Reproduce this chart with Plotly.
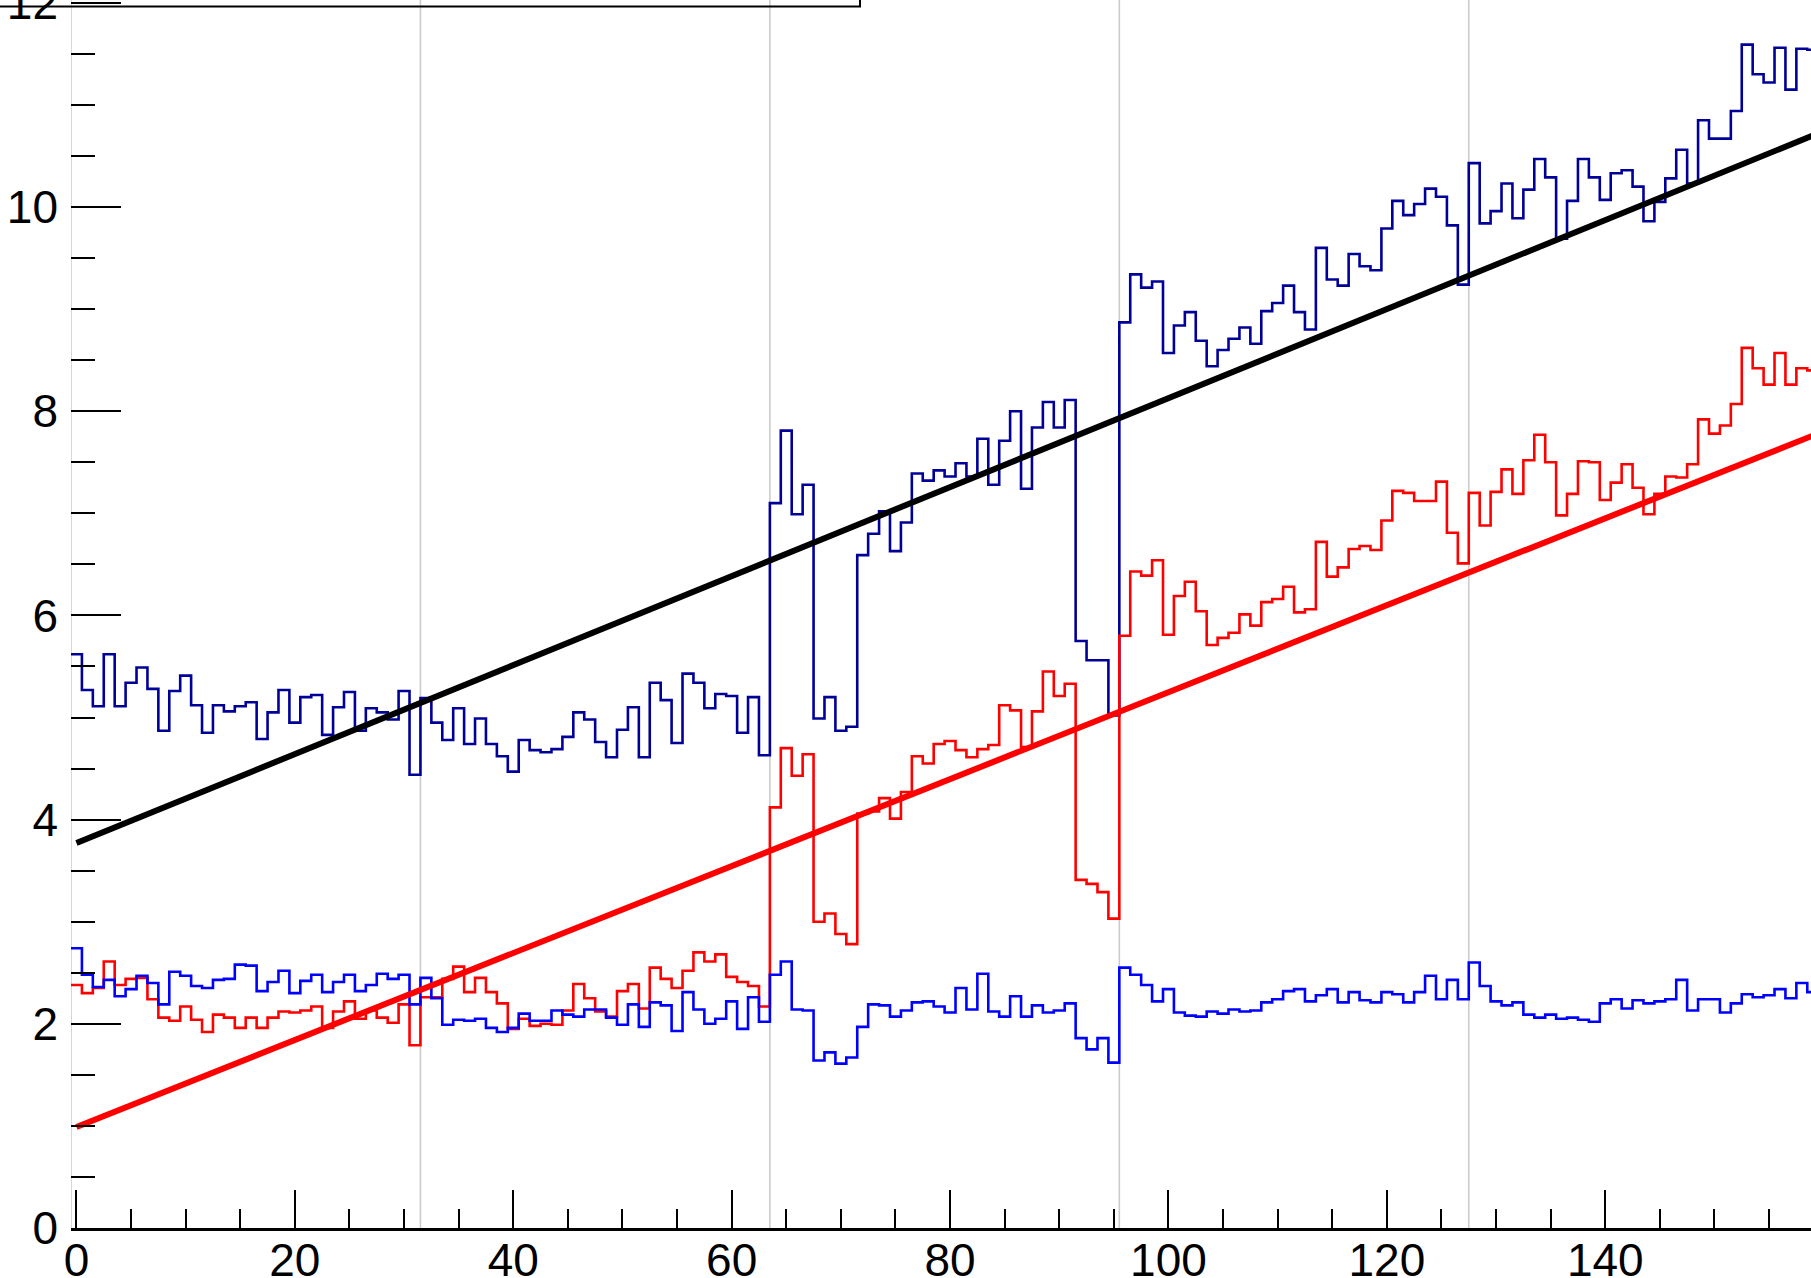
import numpy as np
import plotly.graph_objects as go

# ---------------- data ----------------
bins = list(range(160))  # bin centres 0..159 (bin width 1)

navy_vals = [
    5.62, 5.27, 5.11, 5.62, 5.11, 5.34, 5.49, 5.28, 4.87, 5.26, 5.41, 5.12, 4.85, 5.12, 5.06, 5.11,
    5.15, 4.79, 5.05, 5.27, 4.95, 5.20, 5.22, 4.83, 5.10, 5.25, 4.87, 5.09, 5.05, 4.98, 5.26, 4.44,
    5.19, 4.95, 4.78, 5.09, 4.74, 4.99, 4.74, 4.62, 4.47, 4.78, 4.68, 4.66, 4.69, 4.81, 5.05, 4.98,
    4.76, 4.61, 4.88, 5.10, 4.61, 5.34, 5.17, 4.75, 5.43, 5.34, 5.09, 5.23, 5.21, 4.85, 5.20, 4.63,
    7.10, 7.81, 6.99, 7.28, 4.99, 5.20, 4.87, 4.91, 6.59, 6.80, 7.02, 6.63, 6.91, 7.39, 7.32, 7.42,
    7.36, 7.49, 7.36, 7.73, 7.28, 7.71, 8.00, 7.24, 7.84, 8.09, 7.84, 8.11, 5.75, 5.56, 5.56, 5.02,
    8.87, 9.34, 9.21, 9.27, 8.57, 8.84, 8.97, 8.69, 8.44, 8.60, 8.71, 8.82, 8.66, 8.98, 9.06, 9.23,
    8.97, 8.80, 9.60, 9.29, 9.23, 9.54, 9.42, 9.38, 9.79, 10.06, 9.92, 10.03, 10.18, 10.10, 9.82, 9.24,
    10.43, 9.84, 9.96, 10.23, 9.89, 10.17, 10.47, 10.29, 9.69, 10.06, 10.47, 10.29, 10.07, 10.33, 10.36, 10.20,
    9.86, 10.05, 10.28, 10.56, 10.23, 10.85, 10.67, 10.67, 10.94, 11.59, 11.30, 11.22, 11.56, 11.15, 11.55, 11.54,
]

red_vals = [
    2.38, 2.30, 2.35, 2.61, 2.38, 2.44, 2.45, 2.24, 2.06, 2.03, 2.17, 2.04, 1.92, 2.09, 2.06, 1.96,
    2.06, 1.96, 2.06, 2.12, 2.11, 2.13, 2.17, 1.96, 2.12, 2.22, 2.05, 2.13, 2.06, 2.01, 2.19, 1.79,
    2.26, 2.26, 2.44, 2.56, 2.31, 2.45, 2.31, 2.20, 1.95, 2.05, 1.98, 2.00, 1.99, 2.13, 2.39, 2.25,
    2.12, 2.07, 2.32, 2.39, 2.15, 2.55, 2.44, 2.35, 2.52, 2.70, 2.61, 2.68, 2.46, 2.41, 2.37, 2.17,
    4.12, 4.70, 4.43, 4.64, 3.00, 3.08, 2.88, 2.78, 4.06, 4.08, 4.21, 4.01, 4.27, 4.62, 4.55, 4.74,
    4.77, 4.68, 4.61, 4.69, 4.73, 5.12, 5.07, 4.71, 5.06, 5.45, 5.21, 5.33, 3.41, 3.37, 3.29, 3.03,
    5.80, 6.43, 6.39, 6.54, 5.81, 6.19, 6.33, 6.04, 5.71, 5.78, 5.83, 6.01, 5.90, 6.13, 6.16, 6.28,
    6.03, 6.06, 6.72, 6.38, 6.47, 6.65, 6.68, 6.64, 6.93, 7.22, 7.20, 7.12, 7.12, 7.31, 6.81, 6.51,
    7.20, 6.88, 7.21, 7.43, 7.19, 7.52, 7.77, 7.50, 6.98, 7.19, 7.51, 7.50, 7.13, 7.30, 7.48, 7.25,
    6.99, 7.19, 7.36, 7.35, 7.48, 7.92, 7.78, 7.86, 8.07, 8.62, 8.42, 8.26, 8.57, 8.26, 8.42, 8.40,
]

blue_vals = [
    2.74, 2.48, 2.36, 2.43, 2.27, 2.34, 2.47, 2.40, 2.19, 2.51, 2.47, 2.37, 2.35, 2.43, 2.44, 2.58,
    2.57, 2.32, 2.41, 2.52, 2.30, 2.42, 2.48, 2.31, 2.41, 2.48, 2.32, 2.38, 2.49, 2.44, 2.48, 2.19,
    2.45, 2.25, 1.99, 2.04, 2.03, 2.05, 1.96, 1.92, 1.96, 2.10, 2.03, 2.03, 2.13, 2.09, 2.07, 2.14,
    2.14, 2.06, 1.99, 2.19, 1.97, 2.21, 2.18, 1.93, 2.31, 2.14, 2.00, 2.05, 2.22, 1.95, 2.26, 2.02,
    2.48, 2.61, 2.14, 2.13, 1.64, 1.72, 1.61, 1.67, 1.97, 2.19, 2.18, 2.07, 2.13, 2.21, 2.22, 2.17,
    2.11, 2.35, 2.14, 2.49, 2.12, 2.07, 2.27, 2.07, 2.18, 2.11, 2.13, 2.20, 1.86, 1.75, 1.86, 1.62,
    2.55, 2.48, 2.38, 2.22, 2.34, 2.11, 2.08, 2.07, 2.12, 2.10, 2.14, 2.12, 2.13, 2.21, 2.24, 2.32,
    2.34, 2.22, 2.28, 2.34, 2.21, 2.31, 2.23, 2.21, 2.31, 2.29, 2.21, 2.31, 2.47, 2.24, 2.43, 2.24,
    2.60, 2.37, 2.22, 2.18, 2.21, 2.09, 2.06, 2.09, 2.05, 2.06, 2.04, 2.02, 2.20, 2.24, 2.15, 2.23,
    2.20, 2.22, 2.24, 2.43, 2.13, 2.24, 2.24, 2.11, 2.20, 2.29, 2.26, 2.28, 2.34, 2.25, 2.40, 2.31,
]

# straight-line fits (end points)
fit_x = [0.0, 159.0]
black_fit_y = [3.77, 10.70]
red_fit_y = [0.99, 7.76]

# vertical separators (every 32 bins)
separators = [-0.5, 31.5, 63.5, 95.5, 127.5]

x_ticks = [0, 20, 40, 60, 80, 100, 120, 140]
y_ticks = [0, 2, 4, 6, 8, 10, 12]

# ---------------- figure ----------------
W, H = 1811, 1278
ML, MR, MT, MB = 71, 0, 0, 50
PX_PER_X = 10.92
PX_PER_Y = 102.1
x_lo = -0.5
x_hi = x_lo + (W - ML - MR) / PX_PER_X
y_hi = (H - MT - MB) / PX_PER_Y


def step_xy(vals):
    xs = [b - 0.5 for b in bins] + [bins[-1] + 0.5]
    ys = list(vals) + [vals[-1]]
    return xs, ys


fig = go.Figure()

for vals, col in [(navy_vals, "#000099"), (red_vals, "#ff0000"), (blue_vals, "#0000ff")]:
    xs, ys = step_xy(vals)
    fig.add_trace(go.Scatter(x=xs, y=ys, mode="lines", line=dict(color=col, width=2.6, shape="hv"),
                             hoverinfo="skip", showlegend=False))

fig.add_trace(go.Scatter(x=fit_x, y=black_fit_y, mode="lines", line=dict(color="black", width=6),
                         showlegend=False, hoverinfo="skip"))
fig.add_trace(go.Scatter(x=fit_x, y=red_fit_y, mode="lines", line=dict(color="#ff0000", width=6),
                         showlegend=False, hoverinfo="skip"))

shapes = []
for s in separators:
    shapes.append(dict(type="line", xref="x", yref="paper", x0=s, x1=s, y0=0, y1=1,
                       line=dict(color="#cccccc", width=1.6), layer="below"))

# legend box (mostly above the visible area)
pw = W - ML - MR
ph = H - MT - MB
shapes.append(dict(type="rect", xref="paper", yref="paper",
                   x0=(-100) / pw, x1=(860 - ML) / pw,
                   y0=(ph - 6.5) / ph, y1=1.2,
                   line=dict(color="black", width=2), fillcolor="rgba(0,0,0,0)", layer="above"))

font = dict(family="Liberation Sans, Arial, Helvetica, sans-serif", size=46, color="black")

fig.update_layout(
    template="none",
    width=W, height=H,
    margin=dict(l=ML, r=MR, t=MT, b=MB, pad=0, autoexpand=False),
    paper_bgcolor="white", plot_bgcolor="white",
    shapes=shapes,
    showlegend=False,
    font=font,
    xaxis=dict(range=[x_lo, x_hi], tickmode="array", tickvals=x_ticks,
               ticktext=[str(v) for v in x_ticks], automargin=False,
               ticks="inside", ticklen=38, tickwidth=2, tickcolor="black",
               ticklabelstandoff=-10, ticklabeloverflow="allow",
               showline=True, linecolor="black", linewidth=2.5,
               showgrid=False, zeroline=False, tickfont=font,
               minor=dict(tickmode="linear", tick0=0, dtick=5, ticks="inside", ticklen=19,
                          tickwidth=2, tickcolor="black", showgrid=False)),
    yaxis=dict(range=[0, y_hi], tickmode="array", tickvals=y_ticks,
               ticktext=[str(v) for v in y_ticks], automargin=False,
               ticks="inside", ticklen=50, tickwidth=2, tickcolor="black",
               ticklabelstandoff=12, ticklabeloverflow="allow",
               showline=False, showgrid=False, zeroline=False, tickfont=font,
               minor=dict(tickmode="linear", tick0=0, dtick=0.5, ticks="inside", ticklen=24,
                          tickwidth=2, tickcolor="black", showgrid=False)),
)

fig.write_html("out.html",
               config={"displayModeBar": False},
               post_script="document.body.style.margin='0px';document.body.style.padding='0px';")
